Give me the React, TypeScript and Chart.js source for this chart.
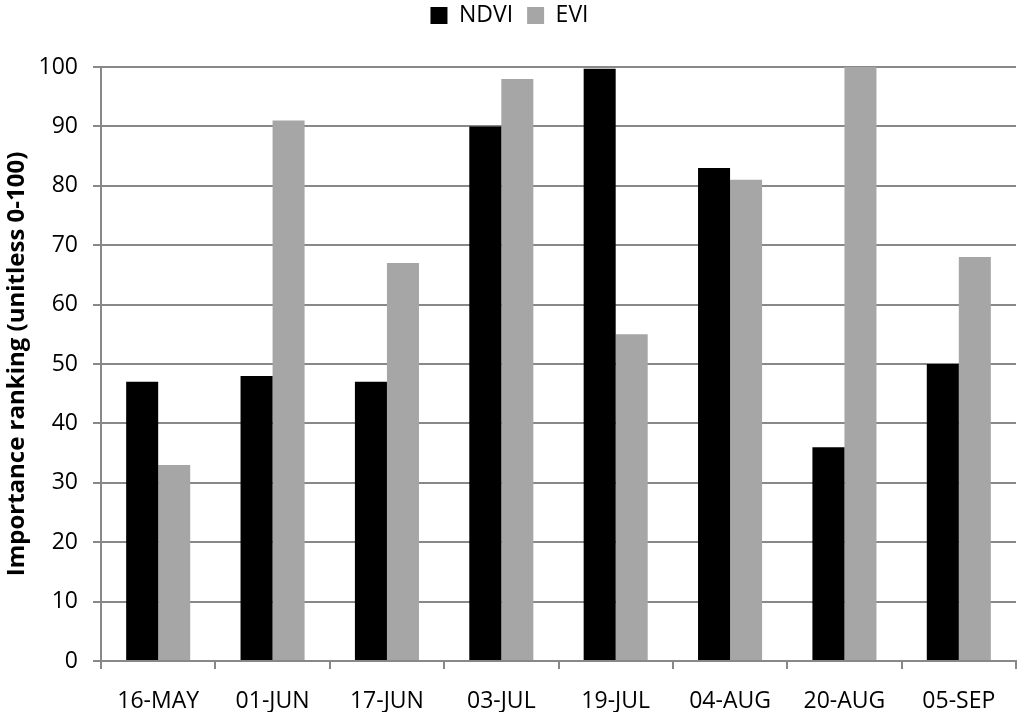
import React, { useEffect, useRef } from "react";
import { Chart, registerables } from "chart.js";

Chart.register(...registerables);

const categories = ["16-MAY", "01-JUN", "17-JUN", "03-JUL", "19-JUL", "04-AUG", "20-AUG", "05-SEP"];
const ndvi = [47, 48, 47, 90, 99.7, 83, 36, 50];
const evi = [33, 91, 67, 98, 55, 81, 100, 68];
const yTitle = "Importance ranking (unitless 0-100)";

const GRID = "#888888";

const legendSpacer = {
  id: "legendSpacer",
  afterInit(chart: any) {
    const lg = chart.legend;
    if (!lg) return;
    const orig = lg.fit.bind(lg);
    lg.fit = function () {
      orig();
      this.height += 30;
    };
  },
};

export default function App() {
  const ref = useRef<HTMLCanvasElement | null>(null);
  useEffect(() => {
    if (!ref.current) return;
    Chart.defaults.font.family = "'Open Sans', sans-serif";
    Chart.defaults.color = "#000";
    const chart = new Chart(ref.current, {
      type: "bar",
      data: {
        labels: categories,
        datasets: [
          { label: "NDVI", data: ndvi, backgroundColor: "#000000", barPercentage: 1, categoryPercentage: 0.56 },
          { label: "EVI", data: evi, backgroundColor: "#a6a6a6", barPercentage: 1, categoryPercentage: 0.56 },
        ],
      },
      plugins: [legendSpacer],
      options: {
        responsive: false,
        animation: false,
        layout: { padding: { left: 3, right: 8, top: -10, bottom: 0 } },
        plugins: {
          legend: {
            display: true,
            position: "top",
            labels: { font: { size: 23 }, boxWidth: 17, boxHeight: 17, padding: 14, color: "#000" },
          },
          tooltip: { enabled: false },
        },
        scales: {
          x: {
            grid: { drawOnChartArea: false, drawTicks: true, tickLength: 8, color: GRID, lineWidth: 2, offset: true },
            border: { display: true, color: GRID, width: 2 },
            ticks: { font: { size: 23 }, color: "#000", padding: 19, maxRotation: 0 },
            afterFit: (s: any) => { s.height = 51; },
          },
          y: {
            min: 0,
            max: 100,
            ticks: { stepSize: 10, font: { size: 23 }, color: "#000", padding: 15 },
            grid: { color: GRID, lineWidth: 2, tickLength: 8, drawTicks: true },
            border: { display: true, color: GRID, width: 2 },
            title: { display: true, text: yTitle, font: { size: 24, weight: "bold" }, color: "#000", padding: 0 },
            afterFit: (s: any) => { s.width = 98; },
          },
        },
      },
    });
    return () => chart.destroy();
  }, []);
  return (
    <div style={{ position: "fixed", left: 0, top: 0, width: 1024, height: 712, background: "#fff" }}>
      <canvas ref={ref} width={1024} height={712} style={{ width: 1024, height: 712, display: "block" }} />
    </div>
  );
}
